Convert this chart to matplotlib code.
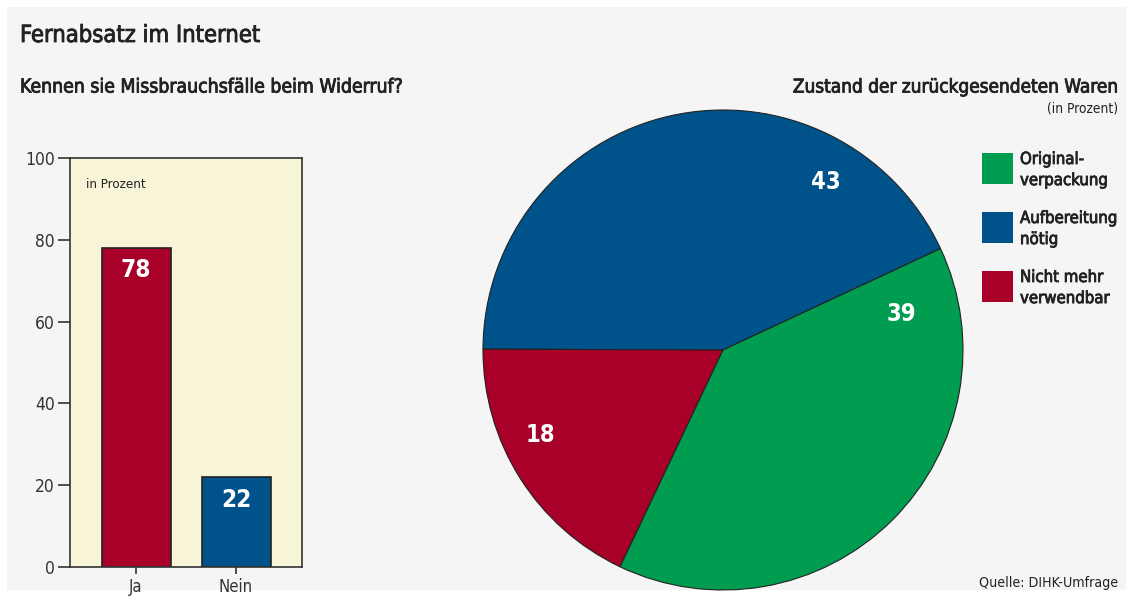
import matplotlib.pyplot as plt
import matplotlib.patheffects as pe
from matplotlib.patches import Rectangle
import numpy as np

plt.rcParams['font.family'] = ['DejaVu Sans']
plt.rcParams['font.stretch'] = 'condensed'

# Bar chart data
bar_cats = ['Ja', 'Nein']
bar_vals = [78, 22]
bar_colors = ['#a80028', '#00528a']

# Pie data (drawn counterclockwise from 25 degrees)
pie_labels = ['Aufbereitung\nnötig', 'Nicht mehr\nverwendbar', 'Original-\nverpackung']
pie_vals = [43, 18, 39]
pie_colors = ['#00528a', '#a80028', '#009c4f']
legend_order = [2, 0, 1]
# where each value label sits inside its wedge (angle in degrees, radius fraction)
label_pos = [(58.6, 0.82), (205, 0.84), (11.4, 0.76)]

W, H = 1132, 597
fig = plt.figure(figsize=(W / 100, H / 100), dpi=100)
fig.patch.set_facecolor('white')
fig.patches.append(Rectangle((7 / W, 7 / H), (1126 - 7) / W, (590 - 7) / H,
                             transform=fig.transFigure, facecolor='#f5f5f5',
                             edgecolor='none', zorder=-10))

txt = '#222222'
semi = [pe.withStroke(linewidth=0.6, foreground=txt)]
fig.text(20 / W, 1 - 35 / H, 'Fernabsatz im Internet', fontsize=17,
         color=txt, va='center', path_effects=semi)
fig.text(20 / W, 1 - 87 / H, 'Kennen sie Missbrauchsfälle beim Widerruf?', fontsize=13.9,
         color=txt, va='center', path_effects=semi)
fig.text(1118 / W, 1 - 87 / H, 'Zustand der zurückgesendeten Waren', fontsize=13.6,
         color=txt, va='center', ha='right', path_effects=semi)
fig.text(1118 / W, 1 - 109 / H, '(in Prozent)', fontsize=9.9, color=txt,
         va='center', ha='right')
fig.text(1118 / W, 1 - 583 / H, 'Quelle: DIHK-Umfrage', fontsize=10.2, color=txt,
         va='center', ha='right')

# Bar axes
ax = fig.add_axes([70 / W, 1 - 567 / H, (302 - 70) / W, (567 - 158) / H])
ax.set_facecolor('#f8f4d8')
x = np.arange(len(bar_cats))
ax.bar(x, bar_vals, width=0.69, color=bar_colors, edgecolor='#222222', linewidth=1.2)
for xi, v in zip(x, bar_vals):
    ax.text(xi, v - 5.5, str(v), ha='center', va='center', color='white',
            fontsize=17.5, weight='bold')
ax.set_xlim(-0.66, 1.66)
ax.set_ylim(0, 100)
ax.set_yticks(range(0, 101, 20))
ax.set_xticks(x)
ax.set_xticklabels(bar_cats)
ax.tick_params(axis='y', direction='out', length=9, width=1.2, colors='#333333',
               labelsize=12.5, pad=2)
ax.tick_params(axis='x', direction='out', length=5, width=1.2, colors='#333333',
               labelsize=12, pad=3)
for s in ax.spines.values():
    s.set_color('#333333')
    s.set_linewidth(1.2)
ax.text(0.07, 0.935, 'in Prozent', transform=ax.transAxes, fontsize=9.5, color=txt,
        va='center')

# Pie axes
r = 240
cx, cy = 723, 350
pax = fig.add_axes([(cx - r) / W, 1 - (cy + r) / H, 2 * r / W, 2 * r / H])
wedges, _ = pax.pie(pie_vals, colors=pie_colors, startangle=25, counterclock=True,
                    radius=1, wedgeprops=dict(edgecolor='#222222', linewidth=0.8))
for v, (ang, d) in zip(pie_vals, label_pos):
    a = np.deg2rad(ang)
    pax.text(d * np.cos(a), d * np.sin(a), str(v), ha='center', va='center',
             color='white', fontsize=17, weight='bold')
pax.set_xlim(-1, 1)
pax.set_ylim(-1, 1)
pax.set_aspect('equal')

# Legend drawn as squares + text
for k, i in enumerate(legend_order):
    top = 153 + k * 59
    fig.patches.append(Rectangle((982 / W, 1 - (top + 31) / H), 31 / W, 31 / H,
                                 transform=fig.transFigure, facecolor=pie_colors[i],
                                 edgecolor='none'))
    fig.text(1020 / W, 1 - (top - 3) / H, pie_labels[i], fontsize=12, color=txt,
             va='top', ha='left', linespacing=1.22, path_effects=semi)

fig.savefig('out.png', dpi=100, facecolor=fig.get_facecolor())
